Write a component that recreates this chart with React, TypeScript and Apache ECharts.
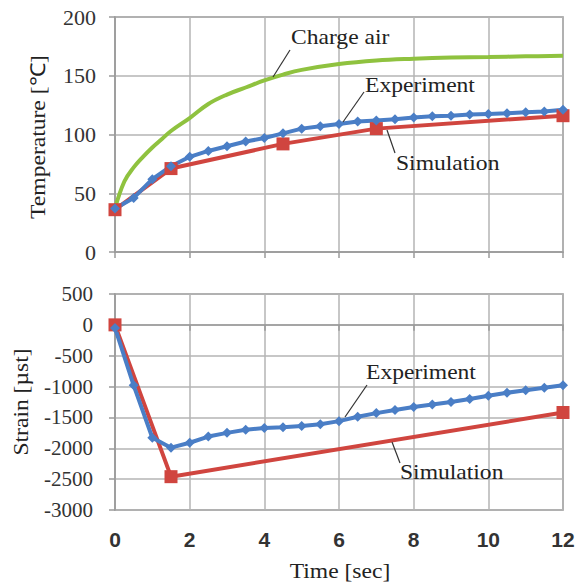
import React, { useEffect, useRef } from "react";
import * as echarts from "echarts";

// ---- Data ----
const timeExperiment = [0, 0.5, 1, 1.5, 2, 2.5, 3, 3.5, 4, 4.5, 5, 5.5, 6, 6.5, 7, 7.5, 8, 8.5, 9, 9.5, 10, 10.5, 11, 11.5, 12];
const tempExperiment = [37, 46, 62, 73, 81, 86, 90, 94, 97, 101, 105, 107, 109, 111, 112, 113, 114.5, 115.5, 116, 117, 117.5, 118, 119, 119.5, 121];
const timeSimTemp = [0, 1.5, 4.5, 7, 12];
const tempSimulation = [36, 71, 92, 105, 116];
const timeChargeAir = [0, 0.25, 0.5, 0.75, 1, 1.25, 1.5, 2, 2.5, 3, 3.5, 4, 4.5, 5, 6, 7, 8, 9, 10, 11, 12];
const tempChargeAir = [37, 60, 72, 81, 89, 96, 103, 114, 126, 134, 140, 146, 151, 155, 160, 163, 164.5, 165.5, 166, 166.5, 167];

const strainExperiment = [-50, -980, -1830, -1990, -1910, -1810, -1750, -1700, -1670, -1660, -1640, -1610, -1560, -1490, -1430, -1380, -1330, -1290, -1250, -1200, -1150, -1100, -1060, -1020, -980];
const timeSimStrain = [0, 1.5, 12];
const strainSimulation = [0, -2460, -1420];

const timeTicks = ["0", "2", "4", "6", "8", "10", "12"];

const pair = (xs: number[], ys: number[]) => xs.map((x, i) => [x, ys[i]]);

const GREEN = "#8fc23f";
const BLUE = "#4a7ec6";
const RED = "#d0453f";
const SERIF = "Liberation Serif";

export default function App() {
  const ref = useRef<HTMLDivElement>(null);
  useEffect(() => {
    if (!ref.current) return;
    const chart = echarts.init(ref.current, undefined, { renderer: "svg" });
    const gridLine = { show: true, lineStyle: { color: "#b4b4b4", width: 1.5 } };
    const axisLine = { show: true, lineStyle: { color: "#9a9a9a", width: 1.5 } };
    const axisTick = { show: true, length: 6, inside: false, lineStyle: { color: "#9a9a9a", width: 1.5 } };
    const txt = (text: string, x: number, y: number) => ({
      type: "text",
      x,
      y,
      z: 100,
      scaleX: 1.15,
      style: { text, fontFamily: SERIF, fontSize: 20.5, fill: "#222", textAlign: "left", textVerticalAlign: "middle" },
    });
    const ln = (x1: number, y1: number, x2: number, y2: number) => ({
      type: "line",
      z: 100,
      shape: { x1, y1, x2, y2 },
      style: { stroke: "#333", lineWidth: 1.2 },
    });
    chart.setOption({
      animation: false,
      backgroundColor: "#fff",
      grid: [
        { left: 115, right: 17, top: 17, height: 235, show: true, borderColor: "#8a8a8a", borderWidth: 1.5 },
        { left: 115, right: 17, top: 294, height: 216, show: true, borderColor: "#8a8a8a", borderWidth: 1.5 },
      ],
      xAxis: [
        {
          type: "value", gridIndex: 0, min: 0, max: 12, interval: 2,
          axisLine, axisTick, splitLine: gridLine, axisLabel: { show: false },
        },
        {
          type: "value", gridIndex: 1, min: 0, max: 12, interval: 2,
          axisLine, axisTick, splitLine: gridLine,
          axisLabel: {
            margin: 19, fontFamily: "Liberation Sans", fontWeight: "bold", fontSize: 21, color: "#333",
            formatter: (v: number) => timeTicks[Math.round(v / 2)] ?? String(v),
          },
        },
      ],
      yAxis: [
        {
          type: "value", gridIndex: 0, min: 0, max: 200, interval: 50,
          axisLine, axisTick, splitLine: gridLine,
          axisLabel: { margin: 19, fontFamily: SERIF, fontSize: 22, color: "#333", formatter: (v: number) => String(v) },
        },
        {
          type: "value", gridIndex: 1, min: -3000, max: 500, interval: 500,
          axisLine, axisTick, splitLine: gridLine,
          axisLabel: { margin: 22, fontFamily: SERIF, fontSize: 21, color: "#333", formatter: (v: number) => String(v) },
        },
      ],
      series: [
        {
          name: "Charge air", type: "line", xAxisIndex: 0, yAxisIndex: 0,
          data: pair(timeChargeAir, tempChargeAir), smooth: 0.4, showSymbol: false,
          lineStyle: { color: GREEN, width: 4 }, itemStyle: { color: GREEN },
        },
        {
          name: "Simulation", type: "line", xAxisIndex: 0, yAxisIndex: 0,
          data: pair(timeSimTemp, tempSimulation), symbol: "rect", symbolSize: 13,
          lineStyle: { color: RED, width: 4 }, itemStyle: { color: RED },
        },
        {
          name: "Experiment", type: "line", xAxisIndex: 0, yAxisIndex: 0,
          data: pair(timeExperiment, tempExperiment), symbol: "diamond", symbolSize: 10,
          lineStyle: { color: BLUE, width: 4 }, itemStyle: { color: BLUE },
        },
        {
          name: "Simulation strain", type: "line", xAxisIndex: 1, yAxisIndex: 1,
          data: pair(timeSimStrain, strainSimulation), symbol: "rect", symbolSize: 13,
          lineStyle: { color: RED, width: 4 }, itemStyle: { color: RED },
        },
        {
          name: "Experiment strain", type: "line", xAxisIndex: 1, yAxisIndex: 1,
          data: pair(timeExperiment, strainExperiment), symbol: "diamond", symbolSize: 10,
          lineStyle: { color: BLUE, width: 4 }, itemStyle: { color: BLUE },
        },
      ],
      graphic: [
        txt("Charge air", 291, 37),
        ln(290, 50, 273, 77),
        txt("Experiment", 365, 85),
        ln(364, 92, 343, 122),
        txt("Simulation", 396, 163),
        ln(395, 153, 387, 130),
        txt("Experiment", 366, 372),
        ln(367, 385, 345, 417),
        txt("Simulation", 400, 472),
        ln(400, 463, 392, 442),
        {
          type: "text", x: 38, y: 137, z: 100, rotation: Math.PI / 2, scaleX: 1.15,
          style: { text: "Temperature [℃]", fontFamily: SERIF, fontSize: 20.5, fill: "#222", textAlign: "center", textVerticalAlign: "middle" },
        },
        {
          type: "text", x: 21, y: 402, z: 100, rotation: Math.PI / 2, scaleX: 1.15,
          style: { text: "Strain [µst]", fontFamily: SERIF, fontSize: 20.5, fill: "#222", textAlign: "center", textVerticalAlign: "middle" },
        },
        {
          type: "text", x: 340, y: 571, z: 100, scaleX: 1.15,
          style: { text: "Time [sec]", fontFamily: SERIF, fontSize: 20.5, fill: "#222", textAlign: "center", textVerticalAlign: "middle" },
        },
      ],
    });
    return () => chart.dispose();
  }, []);
  return <div ref={ref} style={{ position: "absolute", left: 0, top: 0, width: 580, height: 586 }} />;
}
